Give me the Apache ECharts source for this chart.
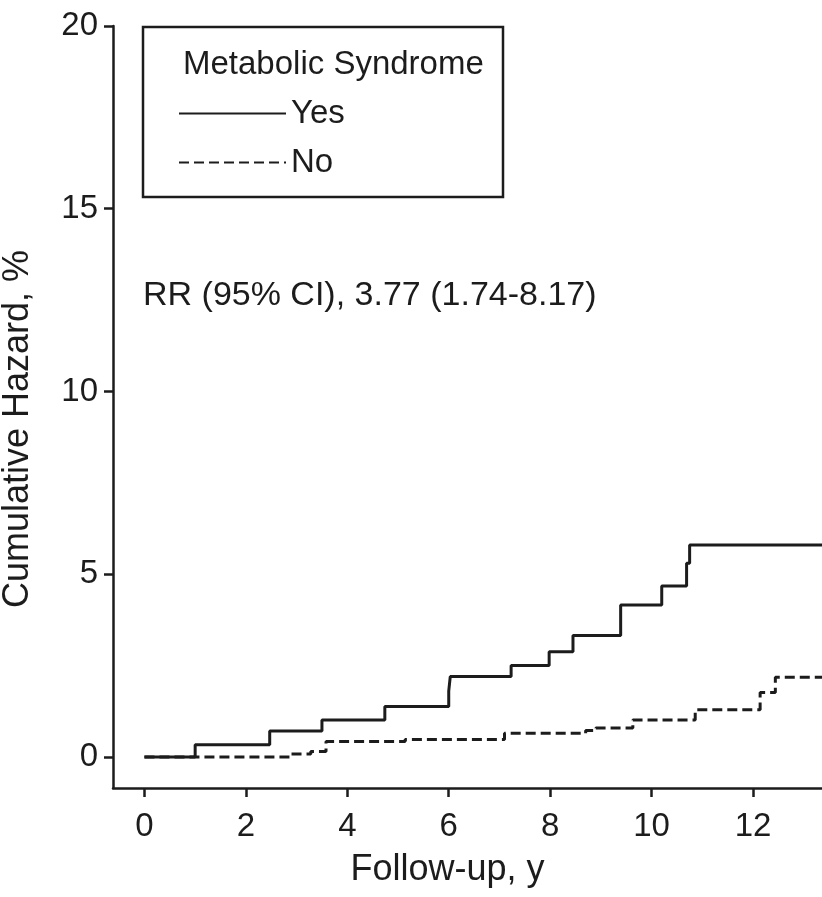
<!DOCTYPE html>
<html>
<head>
<meta charset="utf-8">
<title>Cumulative Hazard</title>
<script src="https://cdn.jsdelivr.net/npm/echarts@6/dist/echarts.min.js"></script>
<style>
    html, body { margin: 0; padding: 0; background: #fff; }
    #charts { width: 822px; height: 897px; }
</style>
</head>
<body>
<div id="charts"></div>
<script>
    // 随访时间 (年) 与累计风险 (%)，阶梯曲线
    var yesTime = [0, 1.0, 2.47, 3.5, 4.74, 6.0, 6.03, 7.23, 7.98, 8.45, 9.39, 10.2, 10.69, 10.75, 13.36];
    var yesHazard = [0, 0.33, 0.71, 1.01, 1.38, 1.8, 2.2, 2.5, 2.88, 3.32, 4.16, 4.68, 5.3, 5.8, 5.8];
    var noTime = [0, 2.9, 3.28, 3.58, 5.14, 7.1, 8.7, 8.9, 9.63, 10.86, 12.14, 12.44, 13.36];
    var noHazard = [0, 0.08, 0.15, 0.42, 0.48, 0.65, 0.72, 0.79, 1.01, 1.29, 1.76, 2.18, 2.18];
    var xTicks = [0, 2, 4, 6, 8, 10, 12];
    var yTicks = [0, 5, 10, 15, 20];
    var seriesNames = ['Yes', 'No'];
    var legendTitle = 'Metabolic Syndrome';
    var rrText = 'RR (95% CI), 3.77 (1.74-8.17)';

    var font = '"Liberation Sans", Arial, Helvetica, sans-serif';
    var ink = '#1c1c1c';

    function pairs(xs, ys) {
        return xs.map(function (x, i) { return [x, ys[i]]; });
    }

    var charts = echarts.init(document.getElementById('charts'));
    charts.setOption({
        animation: false,
        textStyle: { fontFamily: font, color: ink },
        // 固定绘图区，不让标签挤压网格
        grid: { left: 113, right: 0, top: 26, bottom: 109, outerBoundsMode: 'none', containLabel: false },
        legend: {
            left: 178,
            top: 97,
            orient: 'vertical',
            padding: 0,
            itemWidth: 107,
            itemHeight: 30,
            itemGap: 16,
            // 只画线，不画圆点
            itemStyle: { opacity: 0 },
            textStyle: { fontFamily: font, fontSize: 33, color: ink },
            data: seriesNames
        },
        graphic: [
            {
                // 图例边框
                type: 'rect',
                shape: { x: 143, y: 27, width: 360, height: 170 },
                style: { fill: 'none', stroke: ink, lineWidth: 2.5 }
            },
            {
                type: 'text',
                x: 183, y: 65,
                style: { text: legendTitle, font: '33px ' + font, fill: ink, verticalAlign: 'middle' }
            },
            {
                type: 'text',
                x: 143, y: 296,
                style: { text: rrText, font: '34px ' + font, fill: ink, verticalAlign: 'middle' }
            }
        ],
        xAxis: {
            type: 'value',
            min: -0.62,
            max: 13.36,
            name: 'Follow-up, y',
            nameLocation: 'middle',
            nameGap: 64,
            nameTextStyle: { fontFamily: font, fontSize: 36, color: ink, padding: [0, 40, 0, 0] },
            axisLine: { onZero: false, lineStyle: { color: ink, width: 2.5 } },
            axisTick: { customValues: xTicks, length: 9, lineStyle: { color: ink, width: 2.5 } },
            axisLabel: { customValues: xTicks, fontSize: 33, color: ink, margin: 22 },
            splitLine: { show: false }
        },
        yAxis: {
            type: 'value',
            min: -0.85,
            max: 20,
            name: 'Cumulative Hazard, %',
            nameLocation: 'middle',
            nameRotate: 90,
            nameGap: 77,
            nameTextStyle: { fontFamily: font, fontSize: 36, color: ink, padding: [0, 44, 0, 0] },
            axisLine: { show: true, onZero: false, lineStyle: { color: ink, width: 2.5 } },
            axisTick: { show: true, customValues: yTicks, length: 9, lineStyle: { color: ink, width: 2.5 } },
            axisLabel: { customValues: yTicks, fontSize: 33, color: ink, margin: 15 },
            splitLine: { show: false }
        },
        series: [
            {
                name: seriesNames[0],
                type: 'line',
                step: 'end',
                symbol: 'none',
                lineStyle: { color: ink, width: 3, type: 'solid' },
                itemStyle: { color: ink },
                data: pairs(yesTime, yesHazard)
            },
            {
                name: seriesNames[1],
                type: 'line',
                step: 'end',
                symbol: 'none',
                lineStyle: { color: ink, width: 3, type: [10, 5] },
                itemStyle: { color: ink },
                data: pairs(noTime, noHazard)
            }
        ]
    });
</script>
</body>
</html>
